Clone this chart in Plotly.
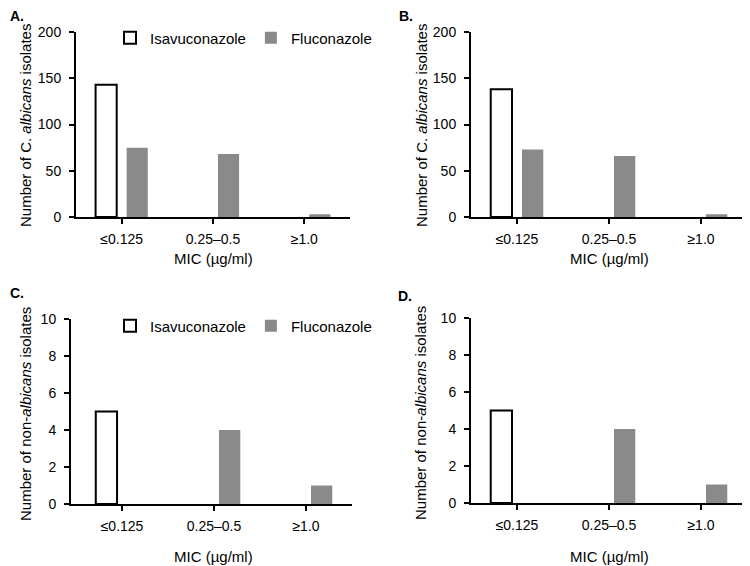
import plotly.graph_objects as go

categories = ["≤0.125", "0.25–0.5", "≥1.0"]

# Panel A: C. albicans isolates
a_isa = [143, 0, 0]
a_flu = [75, 68, 3]
# Panel B: C. albicans isolates
b_isa = [138, 0, 0]
b_flu = [73, 66, 3]
# Panel C: non-albicans isolates
c_isa = [5, 0, 0]
c_flu = [0, 4, 1]
# Panel D: non-albicans isolates
d_isa = [5, 0, 0]
d_flu = [0, 4, 1]

OFF = 8  # page body margin
W, H = 750 - OFF, 566 - OFF
FONT = "Liberation Sans, Arial, sans-serif"
GRAY = "#8a8a8a"

def px_x(p):
    return (p - OFF) / W

def px_y(p):
    return 1 - (p - OFF) / H

panels = [
    # (isa, flu, xaxis, yaxis, xdomain px, ydomain px, xrange, yrange, dtick, legend)
    (a_isa, a_flu, "x", "y", (76, 350), (32, 217), [-0.5, 2.5], [0, 200], 50, "legend"),
    (b_isa, b_flu, "x2", "y2", (471, 747), (32, 217), [-0.5, 2.5], [0, 200], 50, None),
    (c_isa, c_flu, "x3", "y3", (71, 352), (319, 504), [-0.555, 2.5], [0, 10], 2, "legend2"),
    (d_isa, d_flu, "x4", "y4", (471, 747), (318, 503), [-0.5, 2.5], [0, 10], 2, None),
]

fig = go.Figure()
layout = {}
for i, (isa, flu, xa, ya, xd, yd, xr, yr, dt, leg) in enumerate(panels):
    show = leg is not None
    fig.add_trace(go.Bar(
        x=categories, y=isa, name="Isavuconazole", xaxis=xa, yaxis=ya,
        marker=dict(color="white",
                    line=dict(color="black", width=[2 if v > 0 else 0 for v in isa])),
        showlegend=show, legend=leg if leg else "legend",
    ))
    fig.add_trace(go.Bar(
        x=categories, y=flu, name="Fluconazole", xaxis=xa, yaxis=ya,
        marker=dict(color=GRAY, line=dict(color=GRAY, width=0)),
        showlegend=show, legend=leg if leg else "legend",
    ))
    xname = "xaxis" + ("" if i == 0 else str(i + 1))
    yname = "yaxis" + ("" if i == 0 else str(i + 1))
    layout[xname] = dict(
        domain=[px_x(xd[0]), min(1.0, px_x(xd[1]))], anchor=ya, range=xr,
        type="category", showline=True, linecolor="black", linewidth=2,
        ticks="outside", ticklen=5, tickwidth=2, tickcolor="black",
        showgrid=False, zeroline=False, ticklabelstandoff=3, automargin=False,
        tickfont=dict(size=14, color="black", family=FONT),
    )
    layout[yname] = dict(
        domain=[px_y(yd[1]), px_y(yd[0])], anchor=xa, range=yr,
        dtick=dt, tick0=0, showline=True, linecolor="black", linewidth=2,
        ticks="outside", ticklen=5, tickwidth=2, tickcolor="black",
        showgrid=False, zeroline=False, ticklabelstandoff=5, automargin=False,
        tickfont=dict(size=14, color="black", family=FONT),
    )

fig.update_layout(**layout)

legend_common = dict(
    orientation="h", xanchor="left", yanchor="middle",
    font=dict(size=15, color="black", family=FONT),
    bgcolor="rgba(0,0,0,0)", borderwidth=0, traceorder="normal",
)

fig.update_layout(
    width=W, height=H,
    margin=dict(l=0, r=0, t=0, b=0, autoexpand=False),
    paper_bgcolor="white", plot_bgcolor="white",
    barmode="group", bargap=0.32, bargroupgap=0.32,
    font=dict(family=FONT, color="black"),
    legend=dict(x=px_x(110), y=px_y(38), **legend_common),
    legend2=dict(x=px_x(110), y=px_y(326), **legend_common),
    showlegend=True,
)

annotations = []
# panel letters
for txt, x, y in [("A.", 8, 16), ("B.", 397, 16), ("C.", 8, 293), ("D.", 396, 296)]:
    annotations.append(dict(text="<b>" + txt + "</b>", x=px_x(x), y=px_y(y),
                            xref="paper", yref="paper", xanchor="left", yanchor="middle",
                            showarrow=False, font=dict(size=14, family=FONT, color="black")))
# y-axis titles
for txt, x, y in [("Number of C. <i>albicans</i> isolates", 25, 126),
                  ("Number of C. <i>albicans</i> isolates", 421, 126),
                  ("Number of non-<i>albicans</i> isolates", 25, 414),
                  ("Number of non-<i>albicans</i> isolates", 420, 413)]:
    annotations.append(dict(text=txt, x=px_x(x), y=px_y(y), xref="paper", yref="paper",
                            xanchor="center", yanchor="middle", textangle=-90,
                            showarrow=False, font=dict(size=15, family=FONT, color="black")))
# x-axis titles
for x, y in [(213, 258), (609, 258), (213, 556), (609, 556)]:
    annotations.append(dict(text="MIC (µg/ml)", x=px_x(x), y=px_y(y), xref="paper", yref="paper",
                            xanchor="center", yanchor="middle",
                            showarrow=False, font=dict(size=15, family=FONT, color="black")))
fig.update_layout(annotations=annotations)

fig.write_html("out.html")
